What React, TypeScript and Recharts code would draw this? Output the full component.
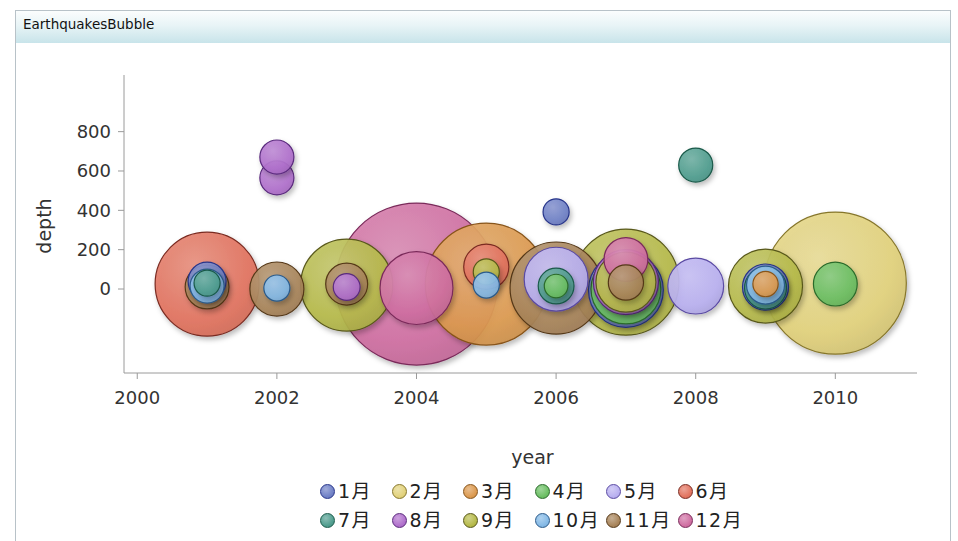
import React from 'react';
import { ScatterChart, Scatter, XAxis, YAxis, ZAxis } from 'recharts';

const monthNames = ['1月', '2月', '3月', '4月', '5月', '6月', '7月', '8月', '9月', '10月', '11月', '12月'];
const monthColors = ['#6f80c6', '#e2d27c', '#dc9a50', '#6cbf64', '#b9b0f0', '#e2735f', '#4f9d8e', '#b070cc', '#b6ba4a', '#84b9e6', '#a8845a', '#d06fa2'];
const monthStrokes = ['#27358a', '#86762a', '#87541a', '#2a6a2a', '#5a4aa3', '#7a2a20', '#1a5a4a', '#5a2a7d', '#58581a', '#2a5a8a', '#553818', '#7a2a5a'];

// bubbles per month: year, depth, size (bubble area proportional to size)
const jan = [
  { year: 2001, depth: 40, size: 36 },
  { year: 2006, depth: 392, size: 17 },
  { year: 2007, depth: -5, size: 140 },
  { year: 2009, depth: 10, size: 53 },
];
const feb = [{ year: 2010, depth: 30, size: 504 }];
const mar = [
  { year: 2005, depth: 25, size: 372 },
  { year: 2009, depth: 25, size: 16 },
];
const apr = [
  { year: 2006, depth: 15, size: 14 },
  { year: 2007, depth: 0, size: 122 },
  { year: 2010, depth: 25, size: 48 },
];
const may = [
  { year: 2006, depth: 50, size: 102 },
  { year: 2008, depth: 15, size: 78 },
];
const jun = [
  { year: 2001, depth: 25, size: 270 },
  { year: 2005, depth: 113, size: 51 },
];
const jul = [
  { year: 2001, depth: 30, size: 17 },
  { year: 2006, depth: 15, size: 32 },
  { year: 2008, depth: 630, size: 29 },
  { year: 2009, depth: 5, size: 44 },
];
const aug = [
  { year: 2002, depth: 565, size: 29 },
  { year: 2002, depth: 671, size: 29 },
  { year: 2003, depth: 10, size: 18 },
  { year: 2007, depth: 35, size: 106 },
];
const sep = [
  { year: 2003, depth: 20, size: 212 },
  { year: 2005, depth: 87, size: 17 },
  { year: 2007, depth: 35, size: 281 },
  { year: 2007, depth: 35, size: 90 },
  { year: 2009, depth: 15, size: 137 },
];
const oct = [
  { year: 2001, depth: 15, size: 29 },
  { year: 2002, depth: 5, size: 17 },
  { year: 2005, depth: 20, size: 17 },
  { year: 2009, depth: 20, size: 36 },
];
const nov = [
  { year: 2001, depth: 10, size: 48 },
  { year: 2002, depth: 0, size: 73 },
  { year: 2003, depth: 25, size: 44 },
  { year: 2006, depth: 5, size: 212 },
  { year: 2007, depth: 33, size: 31 },
];
const dec = [
  { year: 2004, depth: 25, size: 656 },
  { year: 2004, depth: 5, size: 133 },
  { year: 2007, depth: 150, size: 48 },
];

const yearTicks = [2000, 2002, 2004, 2006, 2008, 2010];
const depthTicks = [0, 200, 400, 600, 800];

const allMonths = [jan, feb, mar, apr, may, jun, jul, aug, sep, oct, nov, dec];
const bubbles = allMonths
  .flatMap((arr, m) => arr.map((d) => ({ ...d, month: m })))
  .sort((a, b) => b.size - a.size);

function mix(hex: string, other: string, t: number) {
  const p = (h: string) => [1, 3, 5].map((i) => parseInt(h.slice(i, i + 2), 16));
  const a = p(hex);
  const b = p(other);
  const c = a.map((v, i) => Math.round(v + (b[i] - v) * t));
  return '#' + c.map((v) => v.toString(16).padStart(2, '0')).join('');
}

const BubbleShape = (props: any) => {
  const { cx, cy, width, payload } = props;
  if (cx == null || cy == null) return null;
  const r = (width || 0) / 2;
  const m = payload.month;
  return (
    <circle
      cx={cx}
      cy={cy}
      r={r}
      fill={`url(#bubbleGrad${m})`}
      fillOpacity={0.92}
      stroke={monthStrokes[m]}
      strokeWidth={1.2}
      filter="url(#bubbleShadow)"
    />
  );
};

const tickFont = { fontFamily: 'DejaVu Sans', fontSize: 18 };
const labelFont = { fontFamily: 'DejaVu Sans', fontSize: 19 };

export default function App() {
  return (
    <div style={{ position: 'absolute', left: 0, top: 0, width: 958, height: 541, background: '#fff', overflow: 'hidden' }}>
      <svg width={0} height={0} style={{ position: 'absolute', left: 0, top: 0 }}>
        <defs>
          {monthColors.map((c, i) => (
            <radialGradient key={i} id={`bubbleGrad${i}`} cx="38%" cy="32%" r="75%">
              <stop offset="0%" stopColor={mix(c, '#ffffff', 0.22)} />
              <stop offset="70%" stopColor={c} />
              <stop offset="100%" stopColor={mix(c, '#000000', 0.08)} />
            </radialGradient>
          ))}
          <filter id="bubbleShadow" x="-30%" y="-30%" width="170%" height="170%">
            <feDropShadow dx="2" dy="3" stdDeviation="2.5" floodColor="#000" floodOpacity="0.28" />
          </filter>
        </defs>
      </svg>

      <div
        style={{
          position: 'absolute',
          left: 15,
          top: 10,
          width: 934,
          height: 540,
          borderLeft: '1px solid #b8c2c8',
          borderTop: '1px solid #b8c2c8',
          borderRight: '1px solid #b8c2c8',
        }}
      >
        <div
          style={{
            position: 'absolute',
            left: 0,
            top: 0,
            width: 934,
            height: 32,
            background: 'linear-gradient(#fbfdfd, #e8f4f6 45%, #c8e4ea)',
          }}
        />
        <div
          style={{
            position: 'absolute',
            left: 7,
            top: 7,
            fontFamily: 'DejaVu Sans',
            fontSize: 13.5,
            lineHeight: '13.5px',
            color: '#111',
            whiteSpace: 'nowrap',
          }}
        >
          EarthquakesBubble
        </div>
      </div>

      <div style={{ position: 'absolute', left: 0, top: 0 }}>
        <ScatterChart width={958} height={541} margin={{ top: 75, right: 41, bottom: 73, left: 44 }}>
          <XAxis
            type="number"
            dataKey="year"
            domain={[1999.81, 2011.17]}
            ticks={yearTicks}
            allowDataOverflow
            height={95}
            tickSize={6}
            tickMargin={12}
            axisLine={{ stroke: '#9a9a9a' }}
            tickLine={{ stroke: '#9a9a9a' }}
            tick={{ fill: '#333', ...tickFont }}
            label={{ value: 'year', position: 'insideBottom', offset: 4, dx: 12, fill: '#333', ...labelFont, style: labelFont }}
          />
          <YAxis
            type="number"
            dataKey="depth"
            domain={[-427, 1088]}
            ticks={depthTicks}
            allowDataOverflow
            width={80}
            tickSize={6}
            tickMargin={7}
            axisLine={{ stroke: '#9a9a9a' }}
            tickLine={{ stroke: '#9a9a9a' }}
            tick={{ fill: '#333', ...tickFont }}
            label={{
              value: 'depth',
              angle: -90,
              position: 'insideLeft',
              offset: 0,
              dy: 2,
              fill: '#333',
              ...labelFont,
              style: { ...labelFont, textAnchor: 'middle' },
            }}
          />
          <ZAxis type="number" dataKey="size" domain={[0, 700]} range={[0, 7000 * Math.PI]} />
          <Scatter data={bubbles} shape={BubbleShape} isAnimationActive={false} />
        </ScatterChart>
      </div>

      <div
        style={{
          position: 'absolute',
          left: 320,
          top: 477,
          display: 'grid',
          gridTemplateColumns: 'repeat(6, 71.5px)',
          gridAutoRows: '29px',
        }}
      >
        {monthNames.map((name, i) => (
          <div key={name} style={{ display: 'flex', alignItems: 'center', whiteSpace: 'nowrap', height: 29 }}>
            <span
              style={{
                display: 'inline-block',
                width: 15,
                height: 15,
                borderRadius: '50%',
                boxSizing: 'border-box',
                border: `1px solid ${monthStrokes[i]}`,
                background: `radial-gradient(circle at 38% 32%, ${mix(monthColors[i], '#ffffff', 0.35)}, ${monthColors[i]} 65%, ${mix(monthColors[i], '#000000', 0.12)})`,
                marginRight: 3,
                flexShrink: 0,
              }}
            />
            <span
              style={{
                fontFamily: '"DejaVu Sans", "Noto Sans CJK JP"',
                fontSize: 19,
                letterSpacing: 1.5,
                color: '#222',
                lineHeight: '29px',
              }}
            >
              {name}
            </span>
          </div>
        ))}
      </div>
    </div>
  );
}
